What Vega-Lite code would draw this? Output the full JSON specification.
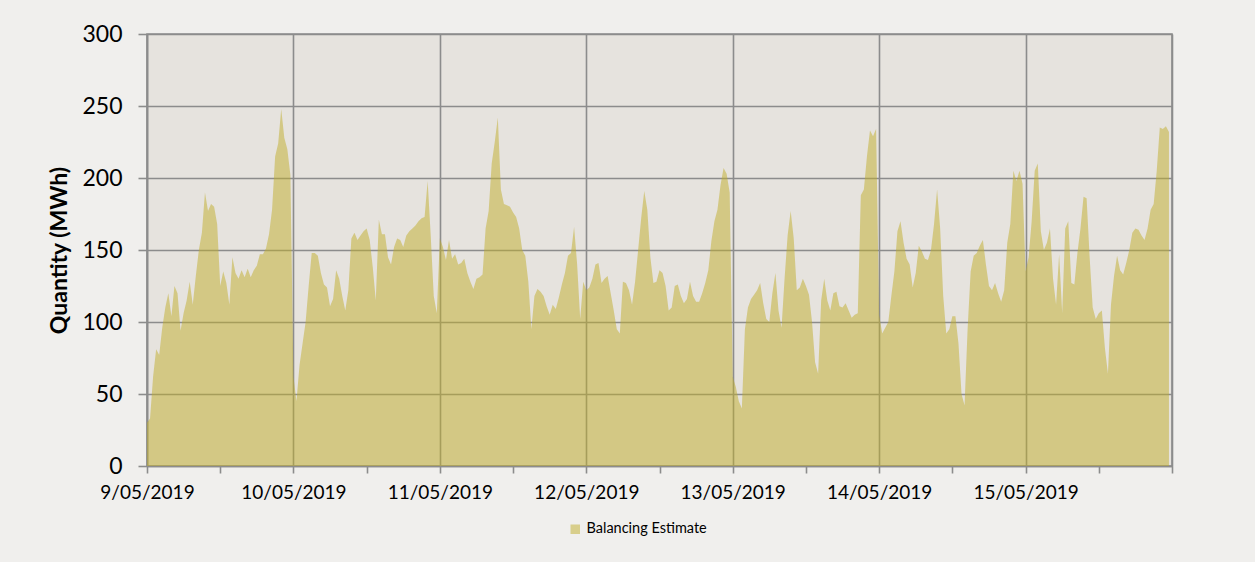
{
  "$schema": "https://vega.github.io/schema/vega-lite/v6.json",
  "width": 1025,
  "height": 432,
  "autosize": {"type": "none"},
  "padding": {"left": 147, "top": 34, "right": 83, "bottom": 96},
  "background": "#f0efed",
  "config": {
    "view": {"fill": "#e6e3de", "stroke": "#8c8c8c", "strokeWidth": 1.6},
    "font": "Lato"
  },
  "datasets": {
    "d": [
      {"t":"2019-05-09T00:00","v":30},{"t":"2019-05-09T00:30","v":33},{"t":"2019-05-09T01:00","v":62},{"t":"2019-05-09T01:30","v":81},{"t":"2019-05-09T02:00","v":77},{"t":"2019-05-09T02:30","v":96},{"t":"2019-05-09T03:00","v":110},{"t":"2019-05-09T03:30","v":120},
      {"t":"2019-05-09T04:00","v":104},{"t":"2019-05-09T04:30","v":125},{"t":"2019-05-09T05:00","v":120},{"t":"2019-05-09T05:30","v":94},{"t":"2019-05-09T06:00","v":106},{"t":"2019-05-09T06:30","v":115},{"t":"2019-05-09T07:00","v":128},{"t":"2019-05-09T07:30","v":112},
      {"t":"2019-05-09T08:00","v":132},{"t":"2019-05-09T08:30","v":150},{"t":"2019-05-09T09:00","v":162},{"t":"2019-05-09T09:30","v":190},{"t":"2019-05-09T10:00","v":177},{"t":"2019-05-09T10:30","v":182},{"t":"2019-05-09T11:00","v":180},{"t":"2019-05-09T11:30","v":168},
      {"t":"2019-05-09T12:00","v":125},{"t":"2019-05-09T12:30","v":135},{"t":"2019-05-09T13:00","v":127},{"t":"2019-05-09T13:30","v":112},{"t":"2019-05-09T14:00","v":145},{"t":"2019-05-09T14:30","v":134},{"t":"2019-05-09T15:00","v":130},{"t":"2019-05-09T15:30","v":136},
      {"t":"2019-05-09T16:00","v":131},{"t":"2019-05-09T16:30","v":137},{"t":"2019-05-09T17:00","v":131},{"t":"2019-05-09T17:30","v":136},{"t":"2019-05-09T18:00","v":139},{"t":"2019-05-09T18:30","v":147},{"t":"2019-05-09T19:00","v":147},{"t":"2019-05-09T19:30","v":151},
      {"t":"2019-05-09T20:00","v":161},{"t":"2019-05-09T20:30","v":178},{"t":"2019-05-09T21:00","v":215},{"t":"2019-05-09T21:30","v":224},{"t":"2019-05-09T22:00","v":248},{"t":"2019-05-09T22:30","v":228},{"t":"2019-05-09T23:00","v":220},{"t":"2019-05-09T23:30","v":202},
      {"t":"2019-05-10T00:00","v":62},{"t":"2019-05-10T00:30","v":45},{"t":"2019-05-10T01:00","v":70},{"t":"2019-05-10T01:30","v":85},{"t":"2019-05-10T02:00","v":100},{"t":"2019-05-10T02:30","v":125},{"t":"2019-05-10T03:00","v":148},{"t":"2019-05-10T03:30","v":148},
      {"t":"2019-05-10T04:00","v":146},{"t":"2019-05-10T04:30","v":134},{"t":"2019-05-10T05:00","v":126},{"t":"2019-05-10T05:30","v":124},{"t":"2019-05-10T06:00","v":111},{"t":"2019-05-10T06:30","v":116},{"t":"2019-05-10T07:00","v":136},{"t":"2019-05-10T07:30","v":130},
      {"t":"2019-05-10T08:00","v":118},{"t":"2019-05-10T08:30","v":108},{"t":"2019-05-10T09:00","v":122},{"t":"2019-05-10T09:30","v":158},{"t":"2019-05-10T10:00","v":162},{"t":"2019-05-10T10:30","v":157},{"t":"2019-05-10T11:00","v":160},{"t":"2019-05-10T11:30","v":163},
      {"t":"2019-05-10T12:00","v":165},{"t":"2019-05-10T12:30","v":157},{"t":"2019-05-10T13:00","v":138},{"t":"2019-05-10T13:30","v":115},{"t":"2019-05-10T14:00","v":171},{"t":"2019-05-10T14:30","v":161},{"t":"2019-05-10T15:00","v":161},{"t":"2019-05-10T15:30","v":145},
      {"t":"2019-05-10T16:00","v":140},{"t":"2019-05-10T16:30","v":152},{"t":"2019-05-10T17:00","v":158},{"t":"2019-05-10T17:30","v":157},{"t":"2019-05-10T18:00","v":152},{"t":"2019-05-10T18:30","v":160},{"t":"2019-05-10T19:00","v":163},{"t":"2019-05-10T19:30","v":165},
      {"t":"2019-05-10T20:00","v":167},{"t":"2019-05-10T20:30","v":170},{"t":"2019-05-10T21:00","v":172},{"t":"2019-05-10T21:30","v":173},{"t":"2019-05-10T22:00","v":198},{"t":"2019-05-10T22:30","v":160},{"t":"2019-05-10T23:00","v":118},{"t":"2019-05-10T23:30","v":106},
      {"t":"2019-05-11T00:00","v":158},{"t":"2019-05-11T00:30","v":152},{"t":"2019-05-11T01:00","v":143},{"t":"2019-05-11T01:30","v":157},{"t":"2019-05-11T02:00","v":144},{"t":"2019-05-11T02:30","v":147},{"t":"2019-05-11T03:00","v":140},{"t":"2019-05-11T03:30","v":141},
      {"t":"2019-05-11T04:00","v":144},{"t":"2019-05-11T04:30","v":134},{"t":"2019-05-11T05:00","v":128},{"t":"2019-05-11T05:30","v":123},{"t":"2019-05-11T06:00","v":130},{"t":"2019-05-11T06:30","v":131},{"t":"2019-05-11T07:00","v":133},{"t":"2019-05-11T07:30","v":165},
      {"t":"2019-05-11T08:00","v":177},{"t":"2019-05-11T08:30","v":210},{"t":"2019-05-11T09:00","v":225},{"t":"2019-05-11T09:30","v":242},{"t":"2019-05-11T10:00","v":192},{"t":"2019-05-11T10:30","v":182},{"t":"2019-05-11T11:00","v":181},{"t":"2019-05-11T11:30","v":180},
      {"t":"2019-05-11T12:00","v":176},{"t":"2019-05-11T12:30","v":173},{"t":"2019-05-11T13:00","v":165},{"t":"2019-05-11T13:30","v":150},{"t":"2019-05-11T14:00","v":146},{"t":"2019-05-11T14:30","v":128},{"t":"2019-05-11T15:00","v":95},{"t":"2019-05-11T15:30","v":118},
      {"t":"2019-05-11T16:00","v":123},{"t":"2019-05-11T16:30","v":121},{"t":"2019-05-11T17:00","v":118},{"t":"2019-05-11T17:30","v":111},{"t":"2019-05-11T18:00","v":105},{"t":"2019-05-11T18:30","v":112},{"t":"2019-05-11T19:00","v":109},{"t":"2019-05-11T19:30","v":117},
      {"t":"2019-05-11T20:00","v":126},{"t":"2019-05-11T20:30","v":134},{"t":"2019-05-11T21:00","v":146},{"t":"2019-05-11T21:30","v":148},{"t":"2019-05-11T22:00","v":166},{"t":"2019-05-11T22:30","v":140},{"t":"2019-05-11T23:00","v":102},{"t":"2019-05-11T23:30","v":128},
      {"t":"2019-05-12T00:00","v":122},{"t":"2019-05-12T00:30","v":124},{"t":"2019-05-12T01:00","v":130},{"t":"2019-05-12T01:30","v":140},{"t":"2019-05-12T02:00","v":141},{"t":"2019-05-12T02:30","v":127},{"t":"2019-05-12T03:00","v":130},{"t":"2019-05-12T03:30","v":132},
      {"t":"2019-05-12T04:00","v":120},{"t":"2019-05-12T04:30","v":108},{"t":"2019-05-12T05:00","v":95},{"t":"2019-05-12T05:30","v":92},{"t":"2019-05-12T06:00","v":128},{"t":"2019-05-12T06:30","v":127},{"t":"2019-05-12T07:00","v":122},{"t":"2019-05-12T07:30","v":112},
      {"t":"2019-05-12T08:00","v":128},{"t":"2019-05-12T08:30","v":150},{"t":"2019-05-12T09:00","v":172},{"t":"2019-05-12T09:30","v":191},{"t":"2019-05-12T10:00","v":178},{"t":"2019-05-12T10:30","v":145},{"t":"2019-05-12T11:00","v":127},{"t":"2019-05-12T11:30","v":128},
      {"t":"2019-05-12T12:00","v":136},{"t":"2019-05-12T12:30","v":134},{"t":"2019-05-12T13:00","v":125},{"t":"2019-05-12T13:30","v":108},{"t":"2019-05-12T14:00","v":110},{"t":"2019-05-12T14:30","v":125},{"t":"2019-05-12T15:00","v":126},{"t":"2019-05-12T15:30","v":118},
      {"t":"2019-05-12T16:00","v":113},{"t":"2019-05-12T16:30","v":116},{"t":"2019-05-12T17:00","v":128},{"t":"2019-05-12T17:30","v":118},{"t":"2019-05-12T18:00","v":114},{"t":"2019-05-12T18:30","v":114},{"t":"2019-05-12T19:00","v":120},{"t":"2019-05-12T19:30","v":127},
      {"t":"2019-05-12T20:00","v":136},{"t":"2019-05-12T20:30","v":156},{"t":"2019-05-12T21:00","v":170},{"t":"2019-05-12T21:30","v":178},{"t":"2019-05-12T22:00","v":195},{"t":"2019-05-12T22:30","v":207},{"t":"2019-05-12T23:00","v":203},{"t":"2019-05-12T23:30","v":190},
      {"t":"2019-05-13T00:00","v":62},{"t":"2019-05-13T00:30","v":55},{"t":"2019-05-13T01:00","v":45},{"t":"2019-05-13T01:30","v":40},{"t":"2019-05-13T02:00","v":95},{"t":"2019-05-13T02:30","v":110},{"t":"2019-05-13T03:00","v":116},{"t":"2019-05-13T03:30","v":119},
      {"t":"2019-05-13T04:00","v":122},{"t":"2019-05-13T04:30","v":127},{"t":"2019-05-13T05:00","v":113},{"t":"2019-05-13T05:30","v":102},{"t":"2019-05-13T06:00","v":100},{"t":"2019-05-13T06:30","v":120},{"t":"2019-05-13T07:00","v":134},{"t":"2019-05-13T07:30","v":108},
      {"t":"2019-05-13T08:00","v":96},{"t":"2019-05-13T08:30","v":130},{"t":"2019-05-13T09:00","v":160},{"t":"2019-05-13T09:30","v":177},{"t":"2019-05-13T10:00","v":158},{"t":"2019-05-13T10:30","v":122},{"t":"2019-05-13T11:00","v":124},{"t":"2019-05-13T11:30","v":130},
      {"t":"2019-05-13T12:00","v":125},{"t":"2019-05-13T12:30","v":119},{"t":"2019-05-13T13:00","v":100},{"t":"2019-05-13T13:30","v":72},{"t":"2019-05-13T14:00","v":64},{"t":"2019-05-13T14:30","v":115},{"t":"2019-05-13T15:00","v":130},{"t":"2019-05-13T15:30","v":115},
      {"t":"2019-05-13T16:00","v":108},{"t":"2019-05-13T16:30","v":120},{"t":"2019-05-13T17:00","v":121},{"t":"2019-05-13T17:30","v":111},{"t":"2019-05-13T18:00","v":110},{"t":"2019-05-13T18:30","v":113},{"t":"2019-05-13T19:00","v":108},{"t":"2019-05-13T19:30","v":103},
      {"t":"2019-05-13T20:00","v":105},{"t":"2019-05-13T20:30","v":106},{"t":"2019-05-13T21:00","v":188},{"t":"2019-05-13T21:30","v":192},{"t":"2019-05-13T22:00","v":215},{"t":"2019-05-13T22:30","v":233},{"t":"2019-05-13T23:00","v":229},{"t":"2019-05-13T23:30","v":234},
      {"t":"2019-05-14T00:00","v":105},{"t":"2019-05-14T00:30","v":92},{"t":"2019-05-14T01:00","v":96},{"t":"2019-05-14T01:30","v":100},{"t":"2019-05-14T02:00","v":118},{"t":"2019-05-14T02:30","v":135},{"t":"2019-05-14T03:00","v":163},{"t":"2019-05-14T03:30","v":170},
      {"t":"2019-05-14T04:00","v":155},{"t":"2019-05-14T04:30","v":144},{"t":"2019-05-14T05:00","v":140},{"t":"2019-05-14T05:30","v":124},{"t":"2019-05-14T06:00","v":134},{"t":"2019-05-14T06:30","v":153},{"t":"2019-05-14T07:00","v":149},{"t":"2019-05-14T07:30","v":144},
      {"t":"2019-05-14T08:00","v":143},{"t":"2019-05-14T08:30","v":150},{"t":"2019-05-14T09:00","v":168},{"t":"2019-05-14T09:30","v":192},{"t":"2019-05-14T10:00","v":165},{"t":"2019-05-14T10:30","v":118},{"t":"2019-05-14T11:00","v":92},{"t":"2019-05-14T11:30","v":95},
      {"t":"2019-05-14T12:00","v":104},{"t":"2019-05-14T12:30","v":104},{"t":"2019-05-14T13:00","v":85},{"t":"2019-05-14T13:30","v":50},{"t":"2019-05-14T14:00","v":42},{"t":"2019-05-14T14:30","v":95},{"t":"2019-05-14T15:00","v":135},{"t":"2019-05-14T15:30","v":146},
      {"t":"2019-05-14T16:00","v":148},{"t":"2019-05-14T16:30","v":153},{"t":"2019-05-14T17:00","v":157},{"t":"2019-05-14T17:30","v":140},{"t":"2019-05-14T18:00","v":125},{"t":"2019-05-14T18:30","v":122},{"t":"2019-05-14T19:00","v":127},{"t":"2019-05-14T19:30","v":120},
      {"t":"2019-05-14T20:00","v":114},{"t":"2019-05-14T20:30","v":122},{"t":"2019-05-14T21:00","v":155},{"t":"2019-05-14T21:30","v":168},{"t":"2019-05-14T22:00","v":205},{"t":"2019-05-14T22:30","v":198},{"t":"2019-05-14T23:00","v":205},{"t":"2019-05-14T23:30","v":196},
      {"t":"2019-05-15T00:00","v":135},{"t":"2019-05-15T00:30","v":145},{"t":"2019-05-15T01:00","v":170},{"t":"2019-05-15T01:30","v":205},{"t":"2019-05-15T02:00","v":210},{"t":"2019-05-15T02:30","v":163},{"t":"2019-05-15T03:00","v":150},{"t":"2019-05-15T03:30","v":155},
      {"t":"2019-05-15T04:00","v":165},{"t":"2019-05-15T04:30","v":130},{"t":"2019-05-15T05:00","v":112},{"t":"2019-05-15T05:30","v":147},{"t":"2019-05-15T06:00","v":106},{"t":"2019-05-15T06:30","v":165},{"t":"2019-05-15T07:00","v":170},{"t":"2019-05-15T07:30","v":127},
      {"t":"2019-05-15T08:00","v":126},{"t":"2019-05-15T08:30","v":148},{"t":"2019-05-15T09:00","v":165},{"t":"2019-05-15T09:30","v":187},{"t":"2019-05-15T10:00","v":186},{"t":"2019-05-15T10:30","v":145},{"t":"2019-05-15T11:00","v":110},{"t":"2019-05-15T11:30","v":102},
      {"t":"2019-05-15T12:00","v":106},{"t":"2019-05-15T12:30","v":108},{"t":"2019-05-15T13:00","v":82},{"t":"2019-05-15T13:30","v":64},{"t":"2019-05-15T14:00","v":112},{"t":"2019-05-15T14:30","v":132},{"t":"2019-05-15T15:00","v":146},{"t":"2019-05-15T15:30","v":136},
      {"t":"2019-05-15T16:00","v":133},{"t":"2019-05-15T16:30","v":141},{"t":"2019-05-15T17:00","v":150},{"t":"2019-05-15T17:30","v":162},{"t":"2019-05-15T18:00","v":165},{"t":"2019-05-15T18:30","v":164},{"t":"2019-05-15T19:00","v":160},{"t":"2019-05-15T19:30","v":157},
      {"t":"2019-05-15T20:00","v":165},{"t":"2019-05-15T20:30","v":178},{"t":"2019-05-15T21:00","v":182},{"t":"2019-05-15T21:30","v":205},{"t":"2019-05-15T22:00","v":235},{"t":"2019-05-15T22:30","v":234},{"t":"2019-05-15T23:00","v":236},{"t":"2019-05-15T23:30","v":232}
    ]
  },
  "data": {"name": "d"},
  "mark": {"type": "area", "opacity": 0.5, "interpolate": "linear"},
  "encoding": {
    "x": {
      "field": "t",
      "type": "temporal",
      "scale": {"domain": [{"year": 2019, "month": 5, "date": 9}, {"year": 2019, "month": 5, "date": 16}]},
      "axis": {
        "title": null,
        "values": [
          {"year": 2019, "month": 5, "date": 9, "hours": 0}, {"year": 2019, "month": 5, "date": 9, "hours": 12},
          {"year": 2019, "month": 5, "date": 10, "hours": 0}, {"year": 2019, "month": 5, "date": 10, "hours": 12},
          {"year": 2019, "month": 5, "date": 11, "hours": 0}, {"year": 2019, "month": 5, "date": 11, "hours": 12},
          {"year": 2019, "month": 5, "date": 12, "hours": 0}, {"year": 2019, "month": 5, "date": 12, "hours": 12},
          {"year": 2019, "month": 5, "date": 13, "hours": 0}, {"year": 2019, "month": 5, "date": 13, "hours": 12},
          {"year": 2019, "month": 5, "date": 14, "hours": 0}, {"year": 2019, "month": 5, "date": 14, "hours": 12},
          {"year": 2019, "month": 5, "date": 15, "hours": 0}, {"year": 2019, "month": 5, "date": 15, "hours": 12},
          {"year": 2019, "month": 5, "date": 16, "hours": 0}
        ],
        "labelExpr": "timeFormat(datum.value, '%H') == '00' && timeFormat(datum.value, '%d') != '16' ? timeFormat(datum.value, '%-d/%m/%Y') : ''",
        "labelFlush": false,
        "labelOverlap": false,
        "labelFont": "Lato",
        "labelFontSize": 19,
        "labelColor": "#000000",
        "labelPadding": 10,
        "grid": true,
        "gridColor": "#8c8c8c",
        "gridWidth": 1.6,
        "gridOpacity": {"condition": {"test": "timeFormat(datum.value, '%H') == '00'", "value": 1}, "value": 0},
        "domainColor": "#8c8c8c",
        "domainWidth": 1.6,
        "tickColor": "#8c8c8c",
        "tickWidth": 1.6,
        "tickSize": 7
      }
    },
    "y": {
      "field": "v",
      "type": "quantitative",
      "scale": {"domain": [0, 300]},
      "axis": {
        "title": "Quantity (MWh)",
        "titleFont": "Lato",
        "titleFontSize": 23,
        "titleFontWeight": "bold",
        "titleColor": "#000000",
        "titlePadding": 10,
        "values": [0, 50, 100, 150, 200, 250, 300],
        "labelFont": "Lato",
        "labelFontSize": 23,
        "labelColor": "#000000",
        "labelPadding": 16,
        "tickSize": 9,
        "tickColor": "#8c8c8c",
        "tickWidth": 1.6,
        "gridColor": "#8c8c8c",
        "gridWidth": 1.6,
        "domainColor": "#8c8c8c",
        "domainWidth": 1.6
      }
    },
    "color": {
      "datum": "Balancing Estimate",
      "scale": {"range": ["#bfae2a"]},
      "legend": {
        "title": null,
        "orient": "none",
        "legendX": 421,
        "legendY": 488,
        "symbolType": "square",
        "symbolSize": 90,
        "symbolStrokeWidth": 0,
        "labelFont": "Lato",
        "labelFontSize": 14.5,
        "labelColor": "#000000",
        "labelOffset": 4
      }
    }
  }
}
